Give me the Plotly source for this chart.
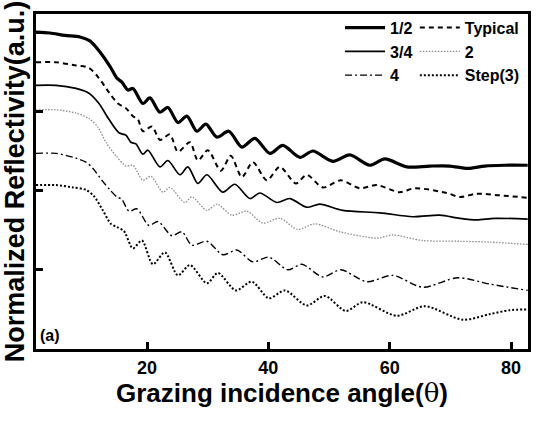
import plotly.graph_objects as go

# ---- data (angle in degrees, normalized reflectivity, offset curves) ----
x_half = [1.70, 4.00, 6.47, 8.95, 10.59, 12.24, 13.89, 15.04, 15.86, 16.85, 17.68, 19.32, 20.48, 22.13, 23.44, 25.09, 26.57, 28.22, 29.70, 31.52, 33.49, 35.63, 37.78, 40.25, 42.39, 45.19, 47.33, 50.63, 53.43, 56.72, 59.19, 62.82, 66.61, 69.90, 72.87, 75.67, 78.96, 82.75]
y_half = [4.00, 3.99, 3.96, 3.94, 3.89, 3.75, 3.57, 3.42, 3.37, 3.27, 3.29, 3.10, 3.17, 2.99, 3.05, 2.86, 2.94, 2.75, 2.84, 2.675, 2.75, 2.55, 2.66, 2.47, 2.57, 2.42, 2.50, 2.37, 2.45, 2.32, 2.40, 2.30, 2.31, 2.31, 2.28, 2.31, 2.32, 2.32]

x_typ = [1.70, 4.99, 8.29, 10.43, 12.08, 13.72, 15.21, 16.52, 17.68, 18.50, 19.32, 20.81, 22.13, 23.77, 25.09, 27.07, 28.39, 30.03, 32.17, 33.82, 35.63, 37.45, 39.75, 41.90, 44.53, 46.34, 48.98, 51.94, 55.07, 57.88, 61.66, 64.14, 69.41, 71.55, 74.35, 78.14, 82.75]
y_typ = [3.62, 3.62, 3.58, 3.55, 3.42, 3.24, 3.10, 3.04, 2.94, 2.90, 2.75, 2.81, 2.64, 2.71, 2.49, 2.61, 2.38, 2.51, 2.25, 2.44, 2.17, 2.36, 2.13, 2.30, 2.09, 2.20, 2.04, 2.13, 2.03, 2.07, 1.98, 2.03, 1.97, 1.92, 1.96, 1.94, 1.91]

x_34 = [1.70, 4.99, 8.29, 10.43, 12.08, 13.72, 15.37, 16.52, 17.35, 18.17, 19.32, 20.15, 22.13, 23.44, 25.42, 26.74, 28.39, 29.87, 32.50, 34.48, 36.95, 38.60, 41.40, 43.54, 46.34, 48.48, 52.27, 58.37, 63.81, 68.25, 71.55, 74.35, 77.31, 82.75]
y_34 = [3.33, 3.33, 3.29, 3.23, 3.10, 2.90, 2.73, 2.70, 2.61, 2.59, 2.46, 2.51, 2.30, 2.38, 2.20, 2.30, 2.09, 2.20, 1.98, 2.08, 1.90, 1.97, 1.85, 1.90, 1.79, 1.83, 1.75, 1.72, 1.67, 1.69, 1.65, 1.63, 1.65, 1.64]

x_2 = [1.70, 4.99, 8.29, 10.43, 11.91, 13.23, 14.88, 16.52, 17.68, 19.32, 20.64, 22.62, 23.77, 26.24, 27.40, 29.87, 31.52, 33.99, 36.46, 39.09, 41.90, 44.86, 47.66, 51.78, 57.88, 60.51, 65.45, 71.55, 76.49, 82.75]
y_2 = [3.02, 3.02, 2.98, 2.91, 2.80, 2.61, 2.44, 2.31, 2.32, 2.13, 2.18, 1.98, 2.04, 1.85, 1.92, 1.75, 1.83, 1.69, 1.74, 1.59, 1.65, 1.51, 1.58, 1.48, 1.40, 1.44, 1.37, 1.36, 1.35, 1.32]

x_4 = [1.70, 4.99, 8.29, 9.93, 11.09, 12.57, 13.89, 15.04, 15.86, 17.02, 18.34, 20.31, 21.80, 24.10, 25.75, 27.40, 29.87, 32.50, 34.81, 37.45, 40.08, 43.21, 45.52, 48.98, 51.94, 56.23, 60.51, 65.45, 71.22, 76.49, 82.75]
y_4 = [2.47, 2.47, 2.41, 2.36, 2.28, 2.13, 2.01, 1.92, 1.89, 1.74, 1.77, 1.56, 1.61, 1.43, 1.48, 1.31, 1.36, 1.19, 1.25, 1.10, 1.16, 1.00, 1.07, 0.91, 1.00, 0.85, 0.93, 0.78, 0.90, 0.82, 0.74]

x_step = [1.70, 4.99, 7.79, 9.93, 11.25, 12.73, 14.05, 15.04, 16.19, 17.68, 19.16, 20.97, 22.95, 25.09, 27.07, 29.87, 31.68, 34.65, 37.28, 40.08, 42.72, 46.34, 49.31, 52.77, 55.57, 61.17, 65.78, 72.04, 76.49, 79.79, 82.75]
y_step = [2.07, 2.07, 2.04, 2.01, 1.93, 1.75, 1.58, 1.54, 1.49, 1.27, 1.37, 1.07, 1.22, 0.93, 1.06, 0.83, 0.96, 0.74, 0.85, 0.64, 0.74, 0.55, 0.67, 0.48, 0.59, 0.42, 0.54, 0.37, 0.44, 0.49, 0.50]

x_ticks = [20, 40, 60, 80]
y_ticks = [1, 2, 3, 4]

FONT = "Liberation Sans, Arial, sans-serif"

series = [
    ("1/2", x_half, y_half, dict(color="black", width=3.2, dash="solid"), "legend"),
    ("Typical", x_typ, y_typ, dict(color="black", width=2, dash="5px,4px"), "legend2"),
    ("3/4", x_34, y_34, dict(color="black", width=1.7, dash="solid"), "legend"),
    ("2", x_2, y_2, dict(color="#8c8c8c", width=1.3, dash="1.5px,1.5px"), "legend2"),
    ("4", x_4, y_4, dict(color="black", width=1.4, dash="7px,3px,2px,3px"), "legend"),
    ("Step(3)", x_step, y_step, dict(color="black", width=2, dash="2px,2px"), "legend2"),
]

fig = go.Figure()
for name, xs, ys, ln, lg in series:
    fig.add_trace(go.Scatter(
        x=xs, y=ys, mode="lines", name=name,
        line=dict(shape="spline", smoothing=0.8, **ln),
        legend=lg, legendgroup=name,
    ))

legend_common = dict(
    xanchor="left", yanchor="top", bgcolor="rgba(0,0,0,0)",
    font=dict(family=FONT, size=16, color="black", weight="bold"),
    itemwidth=40, traceorder="grouped", tracegroupgap=0,
)

fig.update_layout(
    width=536, height=435,
    margin=dict(l=36, r=8, t=14, b=86),
    paper_bgcolor="white", plot_bgcolor="white",
    font=dict(family=FONT, color="black"),
    showlegend=True,
    legend=dict(x=0.618, y=1.01, **legend_common),
    legend2=dict(x=0.770, y=1.01, **legend_common),
    xaxis=dict(
        range=[1.7, 82.8], tickvals=x_ticks, ticks="inside", ticklen=7, tickwidth=2.5,
        tickcolor="black", showline=True, linewidth=3, linecolor="black", mirror=True,
        showgrid=False, zeroline=False,
        tickfont=dict(family=FONT, size=18, color="black", weight="bold"),
        title=dict(text="Grazing incidence angle(<span style='font-family:DejaVu Serif;font-weight:normal'>θ</span>)",
                   font=dict(family=FONT, size=26, color="black", weight="bold"), standoff=7),
    ),
    yaxis=dict(
        range=[0, 4.23], tickvals=y_ticks, ticks="inside", ticklen=7, tickwidth=2.5,
        tickcolor="black", showticklabels=False, showline=True, linewidth=3,
        linecolor="black", mirror=True, showgrid=False, zeroline=False, automargin=False,
        title=dict(text="Normalized Reflectivity(a.u.)",
                   font=dict(family=FONT, size=27, color="black", weight="bold"), standoff=10),
    ),
    annotations=[dict(
        text="(a)", xref="paper", yref="paper", x=0.005, y=0.01, xanchor="left", yanchor="bottom",
        showarrow=False, font=dict(family=FONT, size=16, color="black", weight="bold"),
    )],
)

fig.write_html("out.html")
